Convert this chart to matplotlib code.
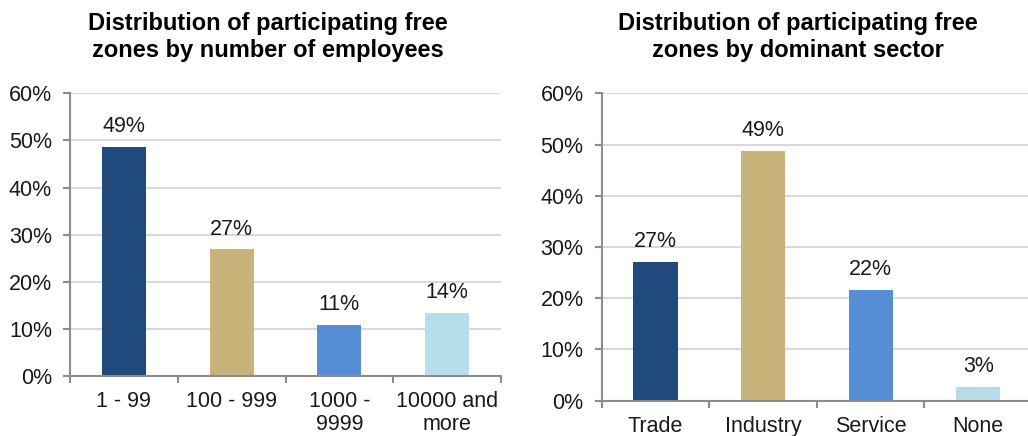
import matplotlib
matplotlib.use("Agg")
import matplotlib.pyplot as plt
from matplotlib.ticker import PercentFormatter

plt.rcParams['font.family'] = ['Liberation Sans', 'DejaVu Sans']

# Data
emp_categories = ["1 - 99", "100 - 999", "1000 -\n9999", "10000 and\nmore"]
emp_values = [48.6, 26.9, 10.8, 13.4]
emp_labels = ["49%", "27%", "11%", "14%"]

sec_categories = ["Trade", "Industry", "Service", "None"]
sec_values = [27.1, 48.7, 21.6, 2.7]
sec_labels = ["27%", "49%", "22%", "3%"]

colors = ["#20497C", "#C8B47A", "#558ED5", "#B7DDE8"]

title_left = "Distribution of participating free\nzones by number of employees"
title_right = "Distribution of participating free\nzones by dominant sector"

W, H = 1028, 436
fig = plt.figure(figsize=(W / 100, H / 100), dpi=100)

FS = 15.5
TFS = 17
axis_color = "#8C8C8C"
grid_color = "#D9D9D9"
text_color = "#1A1A1A"


def px_rect(x0, x1, ytop, ybot):
    return [x0 / W, 1 - ybot / H, (x1 - x0) / W, (ybot - ytop) / H]


def draw(ax, cats, vals, labels):
    x = range(len(cats))
    ax.bar(x, vals, width=0.41, color=colors, zorder=3)
    for xi, v, lab in zip(x, vals, labels):
        ax.annotate(lab, (xi, v), xytext=(0, 7), textcoords="offset points",
                    ha="center", va="bottom", fontsize=FS, color=text_color)
    ax.set_xlim(-0.5, len(cats) - 0.5)
    ax.set_ylim(0, 60)
    ax.set_yticks([0, 10, 20, 30, 40, 50, 60])
    ax.yaxis.set_major_formatter(PercentFormatter(decimals=0))
    ax.set_xticks(list(x))
    ax.set_xticklabels(cats, fontsize=FS, color=text_color, linespacing=1.12)
    ax.set_xticks([i - 0.5 for i in range(len(cats) + 1)], minor=True)
    ax.tick_params(axis="x", which="major", length=0, pad=11)
    ax.tick_params(axis="x", which="minor", length=5, width=1.5, color=axis_color, direction="out")
    ax.tick_params(axis="y", length=5, width=1.5, color=axis_color, pad=8,
                   labelsize=FS, labelcolor=text_color)
    ax.grid(axis="y", color=grid_color, linewidth=1.5, zorder=0)
    ax.set_axisbelow(True)
    for s in ["top", "right"]:
        ax.spines[s].set_visible(False)
    for s in ["left", "bottom"]:
        ax.spines[s].set_color(axis_color)
        ax.spines[s].set_linewidth(1.5)
        ax.spines[s].set_zorder(4)


ax1 = fig.add_axes(px_rect(70, 501, 93.3, 376))
draw(ax1, emp_categories, emp_values, emp_labels)

ax2 = fig.add_axes(px_rect(601.7, 1032, 93.3, 400.7))
draw(ax2, sec_categories, sec_values, sec_labels)

fig.text(268 / W, 1 - 12 / H, title_left, ha="center", va="top", fontsize=TFS,
         fontweight="bold", color="black", linespacing=1.2)
fig.text(798 / W, 1 - 12 / H, title_right, ha="center", va="top", fontsize=TFS,
         fontweight="bold", color="black", linespacing=1.2)

fig.savefig("out.png", dpi=100)
